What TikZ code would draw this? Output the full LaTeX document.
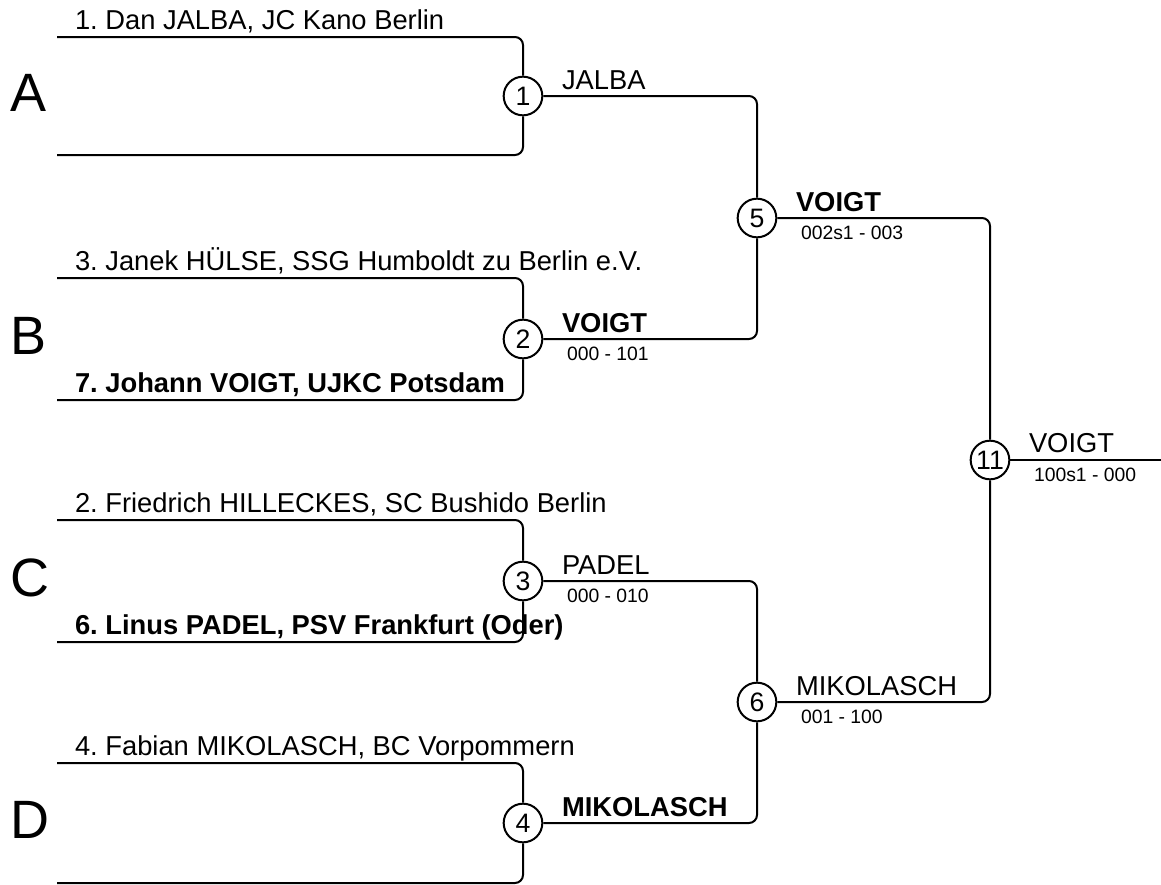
\documentclass[tikz,border=0pt]{standalone}
\usepackage{fontspec}
\setmainfont{Liberation Sans}
\frenchspacing
\begin{document}
\begin{tikzpicture}[x=0.75pt,y=-0.75pt,line width=1.5pt,
  matchnode/.style={circle,draw,line width=1.5pt,minimum size=29pt,inner sep=0pt,fill=white,font=\fontsize{20}{20}\selectfont},
  playerlbl/.style={anchor=base west,inner sep=0pt,font=\fontsize{20.5}{24}\selectfont},
  poollbl/.style={anchor=base west,inner sep=0pt,font=\fontsize{40.5}{44}\selectfont},
  winlbl/.style={anchor=base west,inner sep=0pt,font=\fontsize{20.5}{24}\selectfont},
  scorelbl/.style={anchor=base west,inner sep=0pt,font=\fontsize{14.5}{16}\selectfont},
  conn/.style={rounded corners=6pt}]
\useasboundingbox (0,0) rectangle (1161,885);
% matches
\node[matchnode] (m1) at (523,96) {1};
\node[matchnode] (m2) at (523,339) {2};
\node[matchnode] (m3) at (523,581) {3};
\node[matchnode] (m4) at (523,823) {4};
\node[matchnode] (m5) at (757,218) {5};
\node[matchnode] (m6) at (757,702) {6};
\node[matchnode] (m11) at (990,460) {11};
% start points
\coordinate (a1) at (57,37);  \coordinate (a2) at (57,155);
\coordinate (b1) at (57,278); \coordinate (b2) at (57,400);
\coordinate (c1) at (57,520); \coordinate (c2) at (57,642);
\coordinate (d1) at (57,763); \coordinate (d2) at (57,883);
\coordinate (fin) at (1161,460);
% connectors
\draw[conn] (a1) -| (m1); \draw[conn] (a2) -| (m1);
\draw[conn] (b1) -| (m2); \draw[conn] (b2) -| (m2);
\draw[conn] (c1) -| (m3); \draw[conn] (c2) -| (m3);
\draw[conn] (d1) -| (m4); \draw[conn] (d2) -| (m4);
\draw[conn] (m1) -| (m5); \draw[conn] (m2) -| (m5);
\draw[conn] (m3) -| (m6); \draw[conn] (m4) -| (m6);
\draw[conn] (m5) -| (m11); \draw[conn] (m6) -| (m11);
\draw (m11) -- (fin);
% pool letters
\node[poollbl] (pa) at (10,111) {A};
\node[poollbl] (pb) at (10,354) {B};
\node[poollbl] (pc) at (10,596) {C};
\node[poollbl] (pd) at (10,838) {D};
% names
\node[playerlbl] (n1) at (74,29) {1. Dan JALBA, JC Kano Berlin};
\node[playerlbl] (n3) at (74,270) {3. Janek HÜLSE, SSG Humboldt zu Berlin e.V.};
\node[playerlbl] (n7) at (74,392) {\bfseries 7. Johann VOIGT, UJKC Potsdam};
\node[playerlbl] (n2) at (74,512) {2. Friedrich HILLECKES, SC Bushido Berlin};
\node[playerlbl] (n6) at (74,634) {\bfseries 6. Linus PADEL, PSV Frankfurt (Oder)};
\node[playerlbl] (n4) at (74,755) {4. Fabian MIKOLASCH, BC Vorpommern};
% winners
\node[winlbl] (w1) at (561,89) {JALBA};
\node[winlbl] (w2) at (561,332) {\bfseries VOIGT};
\node[scorelbl] (s2) at (566,360) {000 - 101};
\node[winlbl] (w3) at (561,574) {PADEL};
\node[scorelbl] (s3) at (566,602) {000 - 010};
\node[winlbl] (w4) at (561,816) {\bfseries MIKOLASCH};
\node[winlbl] (w5) at (795,211) {\bfseries VOIGT};
\node[scorelbl] (s5) at (800,239) {002s1 - 003};
\node[winlbl] (w6) at (795,695) {MIKOLASCH};
\node[scorelbl] (s6) at (800,723) {001 - 100};
\node[winlbl] (w11) at (1028,452) {VOIGT};
\node[scorelbl] (s11) at (1033,481) {100s1 - 000};
\end{tikzpicture}
\end{document}
